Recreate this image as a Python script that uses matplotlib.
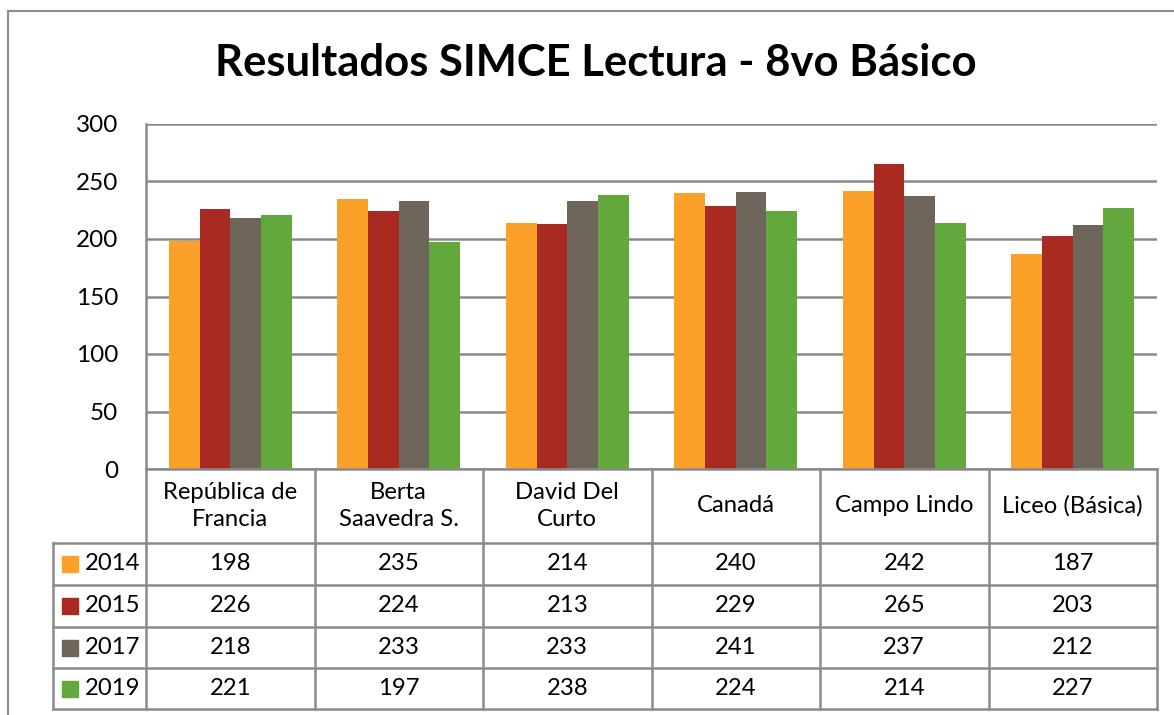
import matplotlib
matplotlib.use("Agg")
import matplotlib.pyplot as plt
from matplotlib.lines import Line2D
import numpy as np

plt.rcParams['font.family'] = ['Lato', 'DejaVu Sans']

categories = ["República de\nFrancia", "Berta\nSaavedra S.", "David Del\nCurto", "Canadá", "Campo Lindo", "Liceo (Básica)"]
series_names = ["2014", "2015", "2017", "2019"]
v2014 = [198, 235, 214, 240, 242, 187]
v2015 = [226, 224, 213, 229, 265, 203]
v2017 = [218, 233, 233, 241, 237, 212]
v2019 = [221, 197, 238, 224, 214, 227]
series_values = [v2014, v2015, v2017, v2019]
colors = ["#FBA12A", "#A92A20", "#6E665A", "#63A83C"]
yticks = [0, 50, 100, 150, 200, 250, 300]

W, H = 1174, 715
fig = plt.figure(figsize=(W / 100, H / 100), dpi=100)
grid_c = "#8A8A8A"

def fx(px):
    return px / W

def fy(py):
    return 1 - py / H

# outer chart border (left + top)
fig.add_artist(Line2D([fx(8), fx(8)], [fy(11), fy(715)], color="#8C8C8C", lw=1.5))
fig.add_artist(Line2D([fx(8), fx(1174)], [fy(11), fy(11)], color="#8C8C8C", lw=1.5))

# title
fig.text(fx(596), fy(63), "Resultados SIMCE Lectura - 8vo Básico", ha="center", va="center",
         fontsize=31.4, fontweight="bold", color="black")

# main plot
L, R, T, B = 146, 1157, 124, 469
ax = fig.add_axes([fx(L), fy(B), fx(R) - fx(L), fy(T) - fy(B)])
n = len(categories)
x = np.arange(n)
bw = 1 / 5.5
for i, (vals, c) in enumerate(zip(series_values, colors)):
    ax.bar(x + (i - 1.5) * bw, vals, width=bw, color=c, zorder=3)
ax.set_xlim(-0.5, n - 0.5)
ax.set_ylim(0, 300)
ax.set_yticks(yticks)
ax.set_yticklabels([str(t) for t in yticks], fontsize=17.5)
ax.tick_params(axis="y", length=0, pad=20)
ax.tick_params(axis="x", length=0, labelbottom=False)
ax.yaxis.grid(True, color=grid_c, lw=1.8, zorder=0)
for s in ["top", "right", "bottom"]:
    ax.spines[s].set_visible(False)
ax.spines["left"].set_color(grid_c)
ax.spines["left"].set_linewidth(1.8)

# data table
TL, TB = 53, 709
row_edges = [469, 543, 585, 627, 668, 709]
cat_w = (R - L) / n
tax = fig.add_axes([fx(TL), fy(TB), fx(R) - fx(TL), fy(469) - fy(TB)])
x_left = -0.5 - (L - TL) / cat_w
tax.set_xlim(x_left, n - 0.5)
tax.set_ylim(TB, 469)
tax.axis("off")
lw = 1.8
fs = 17.2
# horizontal lines
tax.plot([-0.5, n - 0.5], [row_edges[0]] * 2, color=grid_c, lw=lw, clip_on=False)
for ye in row_edges[1:]:
    tax.plot([x_left, n - 0.5], [ye, ye], color=grid_c, lw=lw, clip_on=False)
# vertical lines
tax.plot([x_left, x_left], [row_edges[1], row_edges[-1]], color=grid_c, lw=lw, clip_on=False)
for k in range(n + 1):
    xe = -0.5 + k
    tax.plot([xe, xe], [row_edges[0], row_edges[-1]], color=grid_c, lw=lw, clip_on=False)
# header
hy = (row_edges[0] + row_edges[1]) / 2
for k, cat in enumerate(categories):
    tax.text(k, hy, cat, ha="center", va="center", fontsize=fs, linespacing=1.38)
# rows
for r, (name, vals, c) in enumerate(zip(series_names, series_values, colors)):
    cy = (row_edges[r + 1] + row_edges[r + 2]) / 2
    tax.plot([x_left + 0.1], [cy], marker="s", ms=11, color=c, clip_on=False)
    tax.text(x_left + 0.19, cy, name, ha="left", va="center", fontsize=fs)
    for k, v in enumerate(vals):
        tax.text(k, cy, str(v), ha="center", va="center", fontsize=fs)

fig.savefig("out.png", dpi=100)
